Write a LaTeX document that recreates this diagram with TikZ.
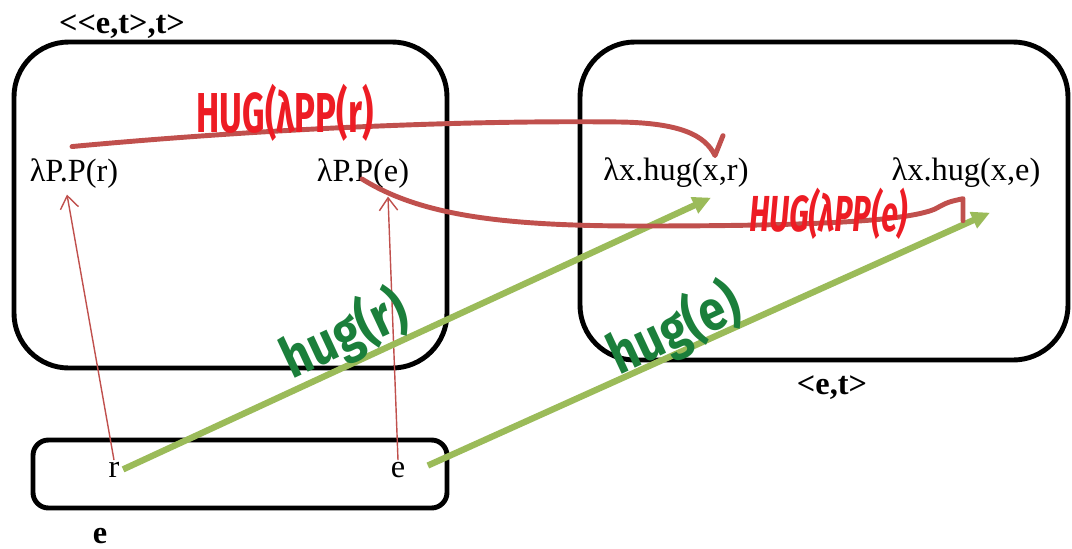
\documentclass[tikz,border=0pt]{standalone}
\usepackage{fontspec}
\setmainfont{Liberation Serif}
\newfontfamily\handfont{Fira Sans}
\usetikzlibrary{calc,arrows.meta}

\definecolor{penred}{HTML}{C0504D}
\definecolor{inkred}{HTML}{ED1C24}
\definecolor{pengreen}{HTML}{9BBB59}
\definecolor{inkgreen}{HTML}{1B7F3B}

\begin{document}
\begin{tikzpicture}[x=0.025cm, y=-0.025cm,
    term/.style={inner sep=1pt, anchor=base, font=\fontsize{23}{27}\selectfont},
    typ/.style={inner sep=0pt, anchor=base, font=\fontsize{23}{27}\selectfont\bfseries},
    frame/.style={draw=black, line width=3.5pt, rounded corners=39pt},
    thin arrow/.style={draw=penred, line width=1pt, -{Straight Barb[length=9pt,width=13pt]}},
    green arrow/.style={draw=pengreen, line width=4.5pt, -{Triangle[length=13pt,width=12pt]}},
    red stroke/.style={draw=penred, line width=3.5pt, line cap=round, line join=round},
    scrawl/.style={inner sep=0pt, font=\handfont\bfseries\fontsize{40}{40}\selectfont}]
        \useasboundingbox (0,0) rectangle (1072,548);

        % the three domains
        \draw[frame] (14,42) rectangle (447,368);
        \draw[frame] (580,42) rectangle (1068,360);
        \draw[frame, rounded corners=11pt] (33,440) rectangle (447,508);
        \node[typ] (tleft) at (122,33) {{<}{<}e,t{>},t{>}};
        \node[typ] (tright) at (832,394) {{<}e,t{>}};
        \node[typ] (tbottom) at (100,543) {e};

        % terms
        \node[term] (pr) at (74,181) {λP.P(r)};
        \node[term] (pe) at (363,181) {λP.P(e)};
        \node[term] (hr) at (676,180) {λx.hug(x,r)};
        \node[term] (he) at (966,180) {λx.hug(x,e)};
        \node[term] (r) at (114,477) {r};
        \node[term] (e) at (398,477) {e};

        % lifting
        \draw[thin arrow] (r.north) -- ($(pr.south)+(-7,5)$);
        \draw[thin arrow] (e.north) -- ($(pe.south)+(25,7)$);

        % hug applied to the individuals
        \draw[green arrow] ($(r.east)+(2,0)$) -- ($(hr.south)+(35,9)$);
        \draw[green arrow] ($(e.east)+(21,-4)$) -- ($(he.south)+(24,24)$);
        \node[scrawl, text=inkgreen, rotate=25, xscale=0.85] (hugr) at (345,335) {hug(r)};
        \node[scrawl, text=inkgreen, rotate=25, xscale=0.85] (huge) at (675,330) {hug(e)};

        % HUG applied to the quantifiers
        \draw[red stroke] ($(pr.north)+(-2,-10)$) .. controls (250,130) and (450,120) .. (620,122)
            .. controls (680,123) and (705,135) .. ($(hr.north)+(39,0)$) -- ++(8,-20);
        \draw[red stroke] ($(pe.base)+(-1,-2)$) .. controls (420,215) and (500,226) .. (640,226)
            .. controls (800,226) and (905,222) .. (935,209)
            .. controls (948,202) .. ($(he.south)+(-3,10)$) -- ++(0,22);
        \node[scrawl, text=inkred, xscale=0.62] (HUGpr) at (285,113) {HUG(λPP(r)};
        \node[scrawl, text=inkred, xscale=0.6, xslant=0.15, font=\handfont\bfseries\fontsize{36}{36}\selectfont] (HUGpe) at (829,214) {HUG(λPP(e)};
      \end{tikzpicture}
\end{document}
